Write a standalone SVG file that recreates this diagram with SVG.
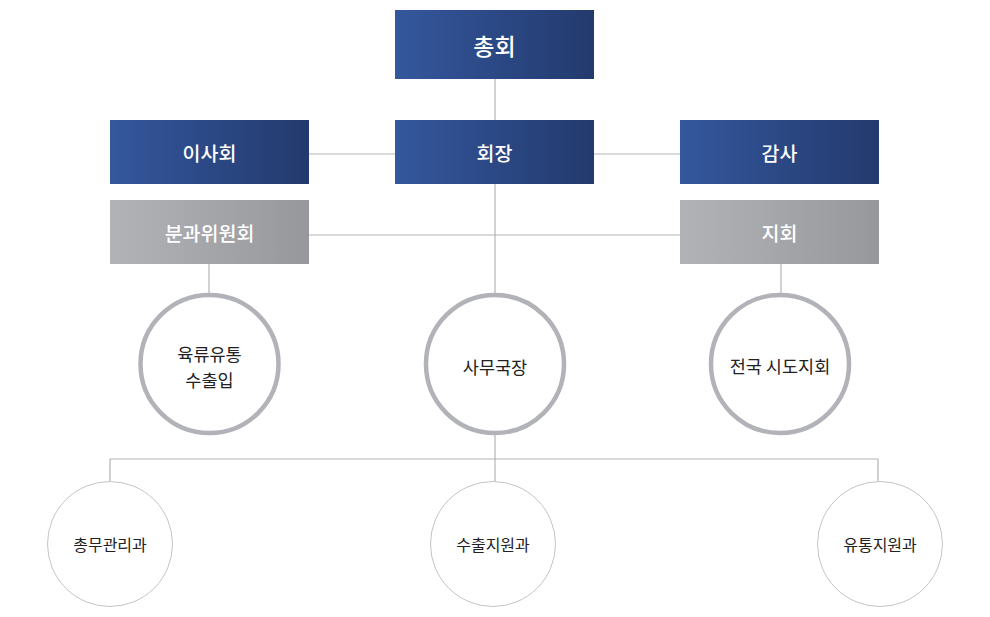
<svg xmlns="http://www.w3.org/2000/svg" width="990" height="617" viewBox="0 0 990 617">
<defs>
<linearGradient id="blue" x1="0" y1="0" x2="1" y2="0">
<stop offset="0" stop-color="#34579d"/>
<stop offset="1" stop-color="#233a6d"/>
</linearGradient>
<linearGradient id="gray" x1="0" y1="0" x2="1" y2="0">
<stop offset="0" stop-color="#b2b3b7"/>
<stop offset="1" stop-color="#96989c"/>
</linearGradient>
<style>
.b{fill:url(#blue)}
.g{fill:url(#gray)}
.t{font-family:"Noto Sans CJK KR","Noto Sans",sans-serif;text-anchor:middle;dominant-baseline:central}
.w{fill:#ffffff;font-weight:500;font-size:19.5px}
.big{font-size:23px}
.c{fill:#ffffff;stroke:#b2b3b8;stroke-width:4.5}
.s{fill:#ffffff;stroke:#c4c4c4;stroke-width:1}
.d{fill:#222222;font-size:17.5px}
.e{fill:#222222;font-size:16px}
.ln{stroke:#b4b4b4;stroke-width:1.2;fill:none}
</style>
</defs>
<g id="connectors">
<line class="ln" x1="495" y1="79" x2="495" y2="120"/>
<line class="ln" x1="309" y1="154" x2="395" y2="154"/>
<line class="ln" x1="594" y1="154" x2="680" y2="154"/>
<line class="ln" x1="495" y1="184" x2="495" y2="293"/>
<line class="ln" x1="309" y1="235" x2="680" y2="235"/>
<line class="ln" x1="209" y1="264" x2="209" y2="293"/>
<line class="ln" x1="781" y1="264" x2="781" y2="293"/>
<line class="ln" x1="495" y1="435" x2="495" y2="481"/>
<polyline class="ln" points="110,481 110,459 878,459 878,481"/>
</g>
<g id="n-chonghoe"><rect class="b" x="395" y="10" width="199" height="69"/><text class="t w big" x="494.5" y="45">총회</text></g>
<g id="n-hoejang"><rect class="b" x="395" y="120" width="199" height="64"/><text class="t w" x="494.5" y="152">회장</text></g>
<g id="n-isahoe"><rect class="b" x="110" y="120" width="199" height="64"/><text class="t w" x="209.5" y="152">이사회</text></g>
<g id="n-gamsa"><rect class="b" x="680" y="120" width="199" height="64"/><text class="t w" x="779.5" y="152">감사</text></g>
<g id="n-bungwa"><rect class="g" x="110" y="200" width="199" height="64"/><text class="t w" x="209.5" y="232">분과위원회</text></g>
<g id="n-jihoe"><rect class="g" x="680" y="200" width="199" height="64"/><text class="t w" x="779.5" y="232">지회</text></g>
<g id="n-yukryu"><circle class="c" cx="209.5" cy="364" r="69"/><text class="t d" x="209.5" y="353">육류유통</text><text class="t d" x="209.5" y="379">수출입</text></g>
<g id="n-samu"><circle class="c" cx="495" cy="364" r="69"/><text class="t d" x="495" y="366">사무국장</text></g>
<g id="n-jeonguk"><circle class="c" cx="780" cy="364" r="69"/><text class="t d" x="780" y="365">전국 시도지회</text></g>
<g id="n-chongmu"><circle class="s" cx="110" cy="544" r="62.5"/><text class="t e" x="110" y="544">총무관리과</text></g>
<g id="n-suchul"><circle class="s" cx="493" cy="544" r="62.5"/><text class="t e" x="493" y="544">수출지원과</text></g>
<g id="n-yutong"><circle class="s" cx="880" cy="544" r="62.5"/><text class="t e" x="880" y="544">유통지원과</text></g>
</svg>
